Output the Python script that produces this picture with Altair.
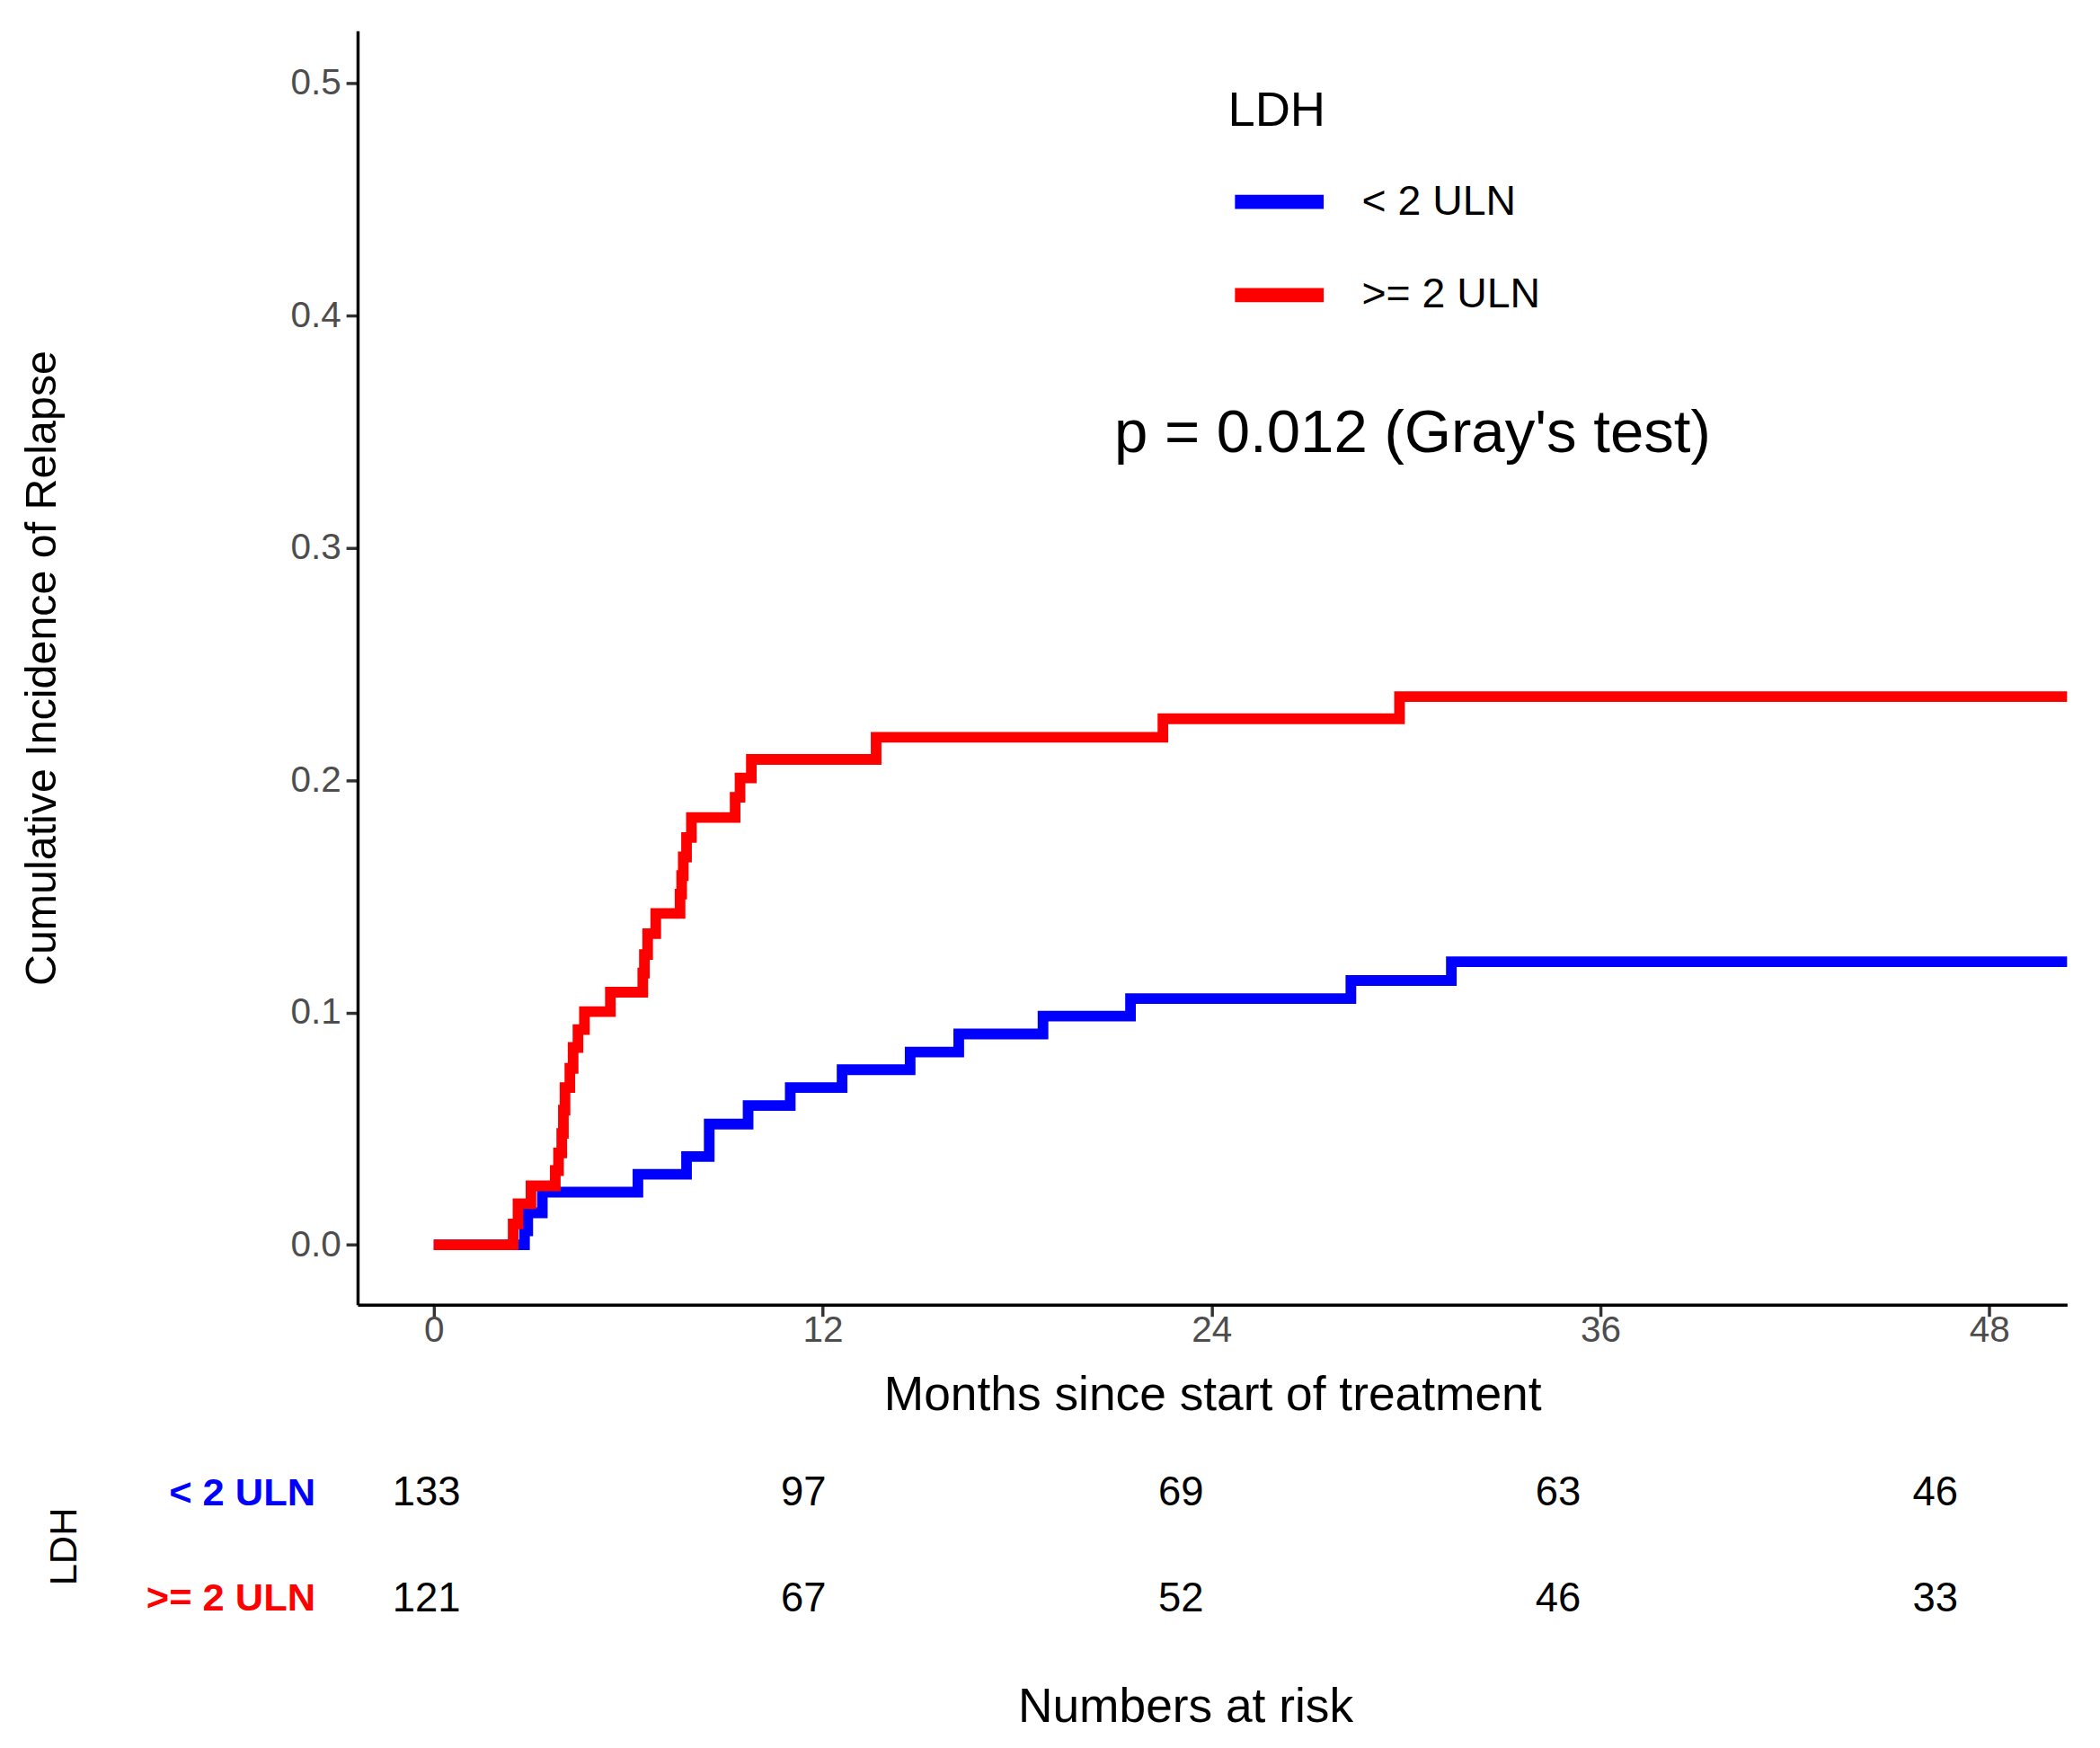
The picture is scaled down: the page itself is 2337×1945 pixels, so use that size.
import altair as alt
import pandas as pd

FONT = "Liberation Sans"

groups = ["< 2 ULN", ">= 2 ULN"]
colors = ["#0000FF", "#FF0000"]

# Cumulative incidence step curves (months, CIF)
time_lt = [0, 2.8, 2.9, 3.35, 6.3, 7.8, 8.5, 9.7, 11.0, 12.6, 14.7, 16.2, 18.8, 21.5, 28.3, 31.4, 50.4]
cif_lt = [0, 0.006, 0.0138, 0.0227, 0.0304, 0.038, 0.052, 0.060, 0.0677, 0.0754, 0.083, 0.0908,
          0.0985, 0.106, 0.1138, 0.1219, 0.1219]

time_ge = [0, 2.45, 2.6, 3.0, 3.75, 3.85, 3.95, 4.0, 4.05, 4.2, 4.3, 4.45, 4.65, 5.45, 6.45, 6.5,
           6.6, 6.85, 7.6, 7.65, 7.7, 7.8, 7.95, 9.3, 9.45, 9.8, 13.65, 22.5, 29.8, 50.4]
cif_ge = [0, 0.009, 0.0177, 0.0254, 0.032, 0.0396, 0.048, 0.058, 0.0677, 0.076, 0.085, 0.0927,
          0.1004, 0.1088, 0.117, 0.125, 0.134, 0.1427, 0.151, 0.159, 0.167, 0.1754, 0.184, 0.1927,
          0.201, 0.209, 0.2185, 0.2265, 0.236, 0.236]

x_ticks = [0, 12, 24, 36, 48]
y_ticks = [0.0, 0.1, 0.2, 0.3, 0.4, 0.5]

# Numbers at risk
risk_times = [0, 12, 24, 36, 48]
risk_lt = [133, 97, 69, 63, 46]
risk_ge = [121, 67, 52, 46, 33]

p_label = ["p = 0.012 (Gray's test)"]
p_x = [30.2]
p_y = [0.349]

df_lines = pd.DataFrame({
    "time": time_lt + time_ge,
    "cif": cif_lt + cif_ge,
    "group": [groups[0]] * len(time_lt) + [groups[1]] * len(time_ge),
})
df_p = pd.DataFrame({"x": p_x, "y": p_y, "label": p_label})
df_risk = pd.DataFrame({
    "time": risk_times + risk_times,
    "n": risk_lt + risk_ge,
    "group": [groups[0]] * len(risk_times) + [groups[1]] * len(risk_times),
})

xscale = alt.Scale(domain=[-2.35, 50.4], nice=False, zero=False)
yscale = alt.Scale(domain=[-0.0258, 0.5227], nice=False, zero=False)

axis_common = dict(
    grid=False, domainColor="black", domainWidth=3.5, tickColor="#333333", tickWidth=3.5,
    tickSize=13, labelColor="#4D4D4D", labelFont=FONT, titleFont=FONT, titleColor="black",
    titleFontWeight="normal",
)

lines = alt.Chart(df_lines).mark_line(
    interpolate="step-after", strokeWidth=12, strokeCap="butt", strokeJoin="miter"
).encode(
    x=alt.X("time:Q", scale=xscale, axis=alt.Axis(
        values=x_ticks, format="d", title="Months since start of treatment",
        labelFontSize=41, labelPadding=-4, titleFontSize=54, titlePadding=26, **axis_common)),
    y=alt.Y("cif:Q", scale=yscale, axis=alt.Axis(
        values=y_ticks, format=".1f", title="Cumulative Incidence of Relapse",
        labelFontSize=41, labelPadding=6, titleFontSize=49, titlePadding=255, **axis_common)),
    color=alt.Color("group:N", scale=alt.Scale(domain=groups, range=colors), legend=alt.Legend(
        title="LDH", orient="none", legendX=981, legendY=64, direction="vertical",
        titleFontSize=55, titleFontWeight="normal", titleColor="black", titleFont=FONT,
        titlePadding=16, labelFontSize=47, labelFont=FONT, labelColor="black", labelOffset=35,
        labelLimit=600, symbolType="stroke", symbolStrokeWidth=16, symbolSize=10000,
        rowPadding=15, padding=0,
    )),
)

ptext = alt.Chart(df_p).mark_text(
    fontSize=68, font=FONT, color="black", align="center", baseline="middle"
).encode(x=alt.X("x:Q", scale=xscale), y=alt.Y("y:Q", scale=yscale), text="label:N")

top = alt.layer(lines, ptext).properties(width=1927, height=1436)

risk = alt.Chart(df_risk).mark_text(
    fontSize=46, font=FONT, color="black", align="center", baseline="middle"
).encode(
    x=alt.X("time:Q", scale=alt.Scale(domain=[-2.19, 50.47], nice=False, zero=False), axis=alt.Axis(
        title="Numbers at risk", labels=False, ticks=False, domain=False, grid=False,
        titleFontSize=54, titlePadding=36, titleFontWeight="normal", titleColor="black",
        titleFont=FONT)),
    y=alt.Y("group:N", sort=groups, scale=alt.Scale(domain=groups, padding=0.5), axis=alt.Axis(
        title="LDH", ticks=False, domain=False, grid=False, labelPadding=48, labelFontSize=44,
        labelFontWeight="bold", labelFont=FONT, labelLimit=600,
        labelColor={"condition": {"test": f"datum.value == '{groups[0]}'", "value": colors[0]},
                    "value": colors[1]},
        titleFontSize=44, titlePadding=108, titleFontWeight="normal", titleColor="black",
        titleFont=FONT)),
    text="n:Q",
).properties(width=1866, height=238)

chart = alt.vconcat(top, risk, spacing=24).properties(
    padding={"left": 15, "top": 14, "right": 5, "bottom": 5}
).configure(font=FONT).configure_view(stroke="transparent", strokeWidth=0)

chart.save("out.html", embed_options={"renderer": "svg", "actions": False})
